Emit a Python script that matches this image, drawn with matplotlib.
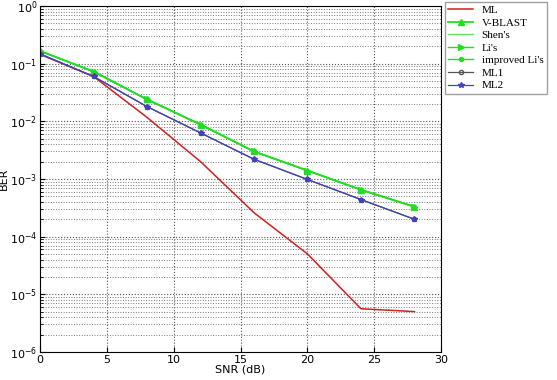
import numpy as np
import matplotlib.pyplot as plt

snr = [0, 4, 8, 12, 16, 20, 24, 28]
ber_ml = [0.145, 0.06, 0.0117, 0.002, 2.6e-4, 5e-5, 5.6e-6, 5e-6]
ber_green = [0.166, 0.073, 0.024, 0.0088, 0.003, 0.0014, 6.5e-4, 3.3e-4]
ber_blue = [0.148, 0.06, 0.018, 0.0063, 0.0022, 0.00098, 4.4e-4, 2.0e-4]
labels = ['ML', 'V-BLAST', "Shen's", "Li's", "improved Li's", 'ML1', 'ML2']

fig = plt.figure(figsize=(5.57, 3.8), dpi=100)
ax = fig.add_axes([0.072, 0.074, 0.72, 0.91])

ax.semilogy(snr, ber_ml, color='#d02020', lw=1.1, label=labels[0])
ax.semilogy(snr, ber_green, color='#22dd22', lw=1.3, marker='^', ms=4, label=labels[1])
ax.semilogy(snr, ber_green, color='#66e066', lw=1.0, label=labels[2])
ax.semilogy(snr, ber_green, color='#22dd22', lw=1.0, marker='>', ms=4, label=labels[3])
ax.semilogy(snr, ber_green, color='#22dd22', lw=1.0, marker='o', ms=3, label=labels[4])
ax.semilogy(snr, ber_blue, color='#555555', lw=0.9, marker='o', ms=3, mfc='none', label=labels[5])
ax.semilogy(snr, ber_blue, color='#4040c0', lw=0.9, marker='*', ms=4, label=labels[6])

ax.set_xlim(0, 30)
ax.set_ylim(1e-6, 1)
ax.set_xticks([0, 5, 10, 15, 20, 25, 30])
ax.grid(True, which='major', ls=':', color='#555555', lw=0.8)
ax.grid(True, which='minor', axis='y', ls=':', color='#777777', lw=0.7)
ax.tick_params(labelsize=8, direction='in', which='both', pad=2)
ax.set_xlabel('SNR (dB)', fontsize=8, labelpad=0)
ax.set_ylabel('BER', fontsize=8)
ax.yaxis.set_label_coords(-0.078, 0.5)

ax.legend(loc='upper left', bbox_to_anchor=(445 / 557, 1 - 2 / 380),
          bbox_transform=fig.transFigure, fancybox=False, edgecolor='#888888',
          prop={'family': 'Liberation Serif', 'size': 8}, handlelength=2.2,
          borderaxespad=0, labelspacing=0.25, borderpad=0.3)

fig.savefig('out.png', dpi=100)
